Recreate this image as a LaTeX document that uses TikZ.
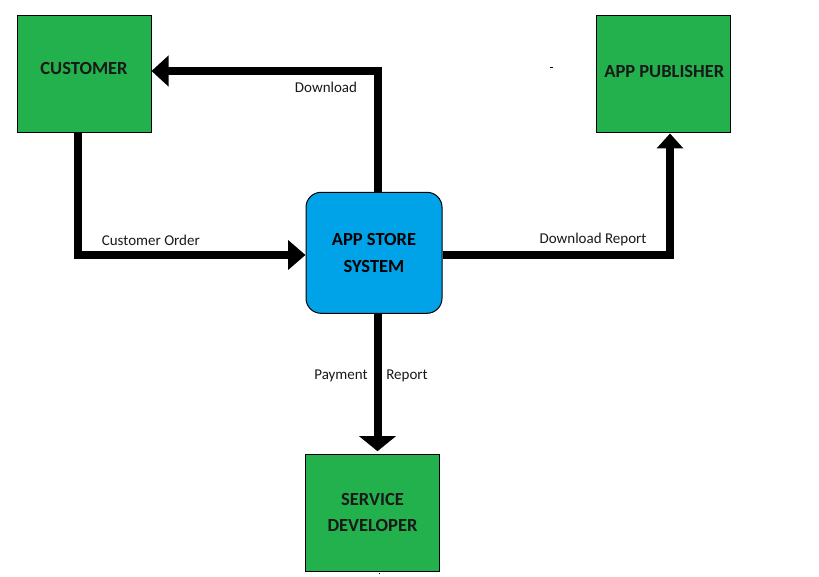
\documentclass[tikz,border=0pt]{standalone}
\usepackage{fontspec}
\setmainfont{Carlito}
\usetikzlibrary{arrows.meta}
\definecolor{boxgreen}{HTML}{22B14C}
\definecolor{boxblue}{HTML}{00A2E8}
\tikzset{
  entity/.style={draw=black, line width=1pt, fill=boxgreen, minimum width=134pt, minimum height=117pt, inner sep=0pt},
  process/.style={draw=black, line width=1pt, fill=boxblue, rounded corners=15pt, minimum width=136pt, minimum height=121pt, inner sep=0pt, align=center, font=\fontsize{18.5}{26.5}\selectfont\bfseries},
  ttl/.style={font=\fontsize{18.5}{26.5}\selectfont\bfseries, align=center, text=black!90},
  flowlbl/.style={font=\fontsize{15}{18}\selectfont, text=black!90, inner sep=0pt},
  flow/.style={line width=8pt, line join=miter, draw=black},
}
\begin{document}
\begin{tikzpicture}[x=1pt,y=-1pt]
\useasboundingbox (0,0) rectangle (819,577);
% entities
\node[entity, label={[ttl, yshift=5.5pt]center:CUSTOMER}] (cust) at (84,74.5) {};
\node[entity, label={[ttl, yshift=2.5pt, xshift=1pt]center:APP PUBLISHER}] (pub) at (663.3,74.5) {};
\node[process] (app) at (374,252.8) {APP STORE\\SYSTEM};
\node[entity, ttl] (dev) at (372.5,512.5) {SERVICE\\DEVELOPER};
% connectors
\draw[flow, -{Triangle[length=17pt,width=30pt]}] ([xshift=4pt]app.north) |- ([yshift=3.5pt]cust.east);
\draw[flow, -{Triangle[length=17.5pt,width=29pt]}] ([xshift=-6.5pt]cust.south) |- ([yshift=-2.2pt]app.west);
\draw[flow, -{Triangle[length=15pt,width=26pt]}] ([yshift=-2.2pt]app.east) -| ([xshift=6.7pt]pub.south);
\coordinate (devtop) at ([xshift=3.5pt]app.south |- dev.north);
\draw[flow, -{Triangle[length=15pt,width=36pt]}, shorten >=2.3pt] ([xshift=3.5pt]app.south) -- (devtop);
% labels
\node[flowlbl] (l1) at (326,87) {Download};
\node[flowlbl] (l2) at (150.8,240) {Customer Order};
\node[flowlbl] (l3) at (593,240) {Download Report};
\node[flowlbl] (l4) at (341,376) {Payment};
\node[flowlbl] (l5) at (407,376) {Report};
% stray marks
\draw[line width=0.9pt] (549.8,67) -- (552.8,67);
\fill (378.8,572.5) rectangle (379.8,573.5);
\end{tikzpicture}
\end{document}
